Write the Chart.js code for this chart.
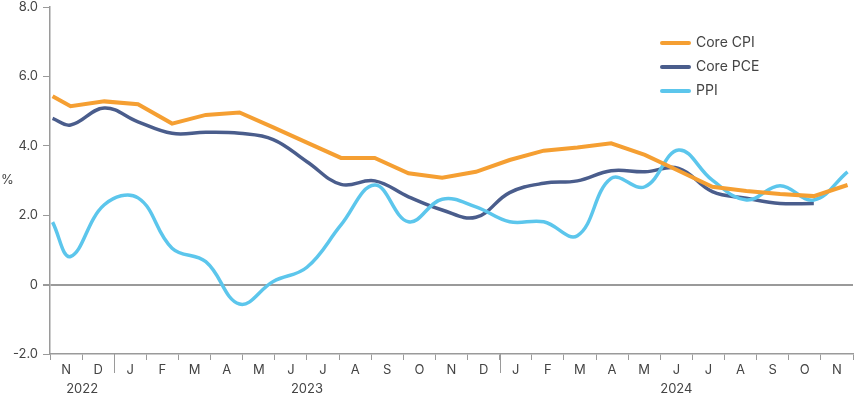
<!DOCTYPE html>
<html>
<head>
    <meta charset="UTF-8">
    <title>Core CPI, Core PCE, PPI</title>
    <script src="https://cdn.jsdelivr.net/npm/chart.js"></script>
    <style>
        body { margin: 0; background: #fff; }
        #cadre { width: 855px; height: 399px; position: relative; }
    </style>
</head>
<body>
<div id="cadre"><canvas id="graphique"></canvas></div>
<script>
    // axis categories: one letter per month, Nov 2022 .. Nov 2024
    const months = ['N', 'D', 'J', 'F', 'M', 'A', 'M', 'J', 'J', 'A', 'S', 'O', 'N',
                    'D', 'J', 'F', 'M', 'A', 'M', 'J', 'J', 'A', 'S', 'O', 'N'];
    const years = ['2022', '2023', '2024'];
    const yearStarts = [0, 2, 14];   // month index where each year starts on the axis

    // observation dates, in months since the start of Nov 2022
    const obsMonths = [0.08, 0.64, 1.69, 2.74, 3.80, 4.85, 5.90, 6.95, 8.00, 9.06, 10.11, 11.16, 12.21,
                       13.26, 14.31, 15.37, 16.42, 17.47, 18.52, 19.57, 20.62, 21.68, 22.73, 23.78, 24.83];

    const coreCpi = [5.43, 5.14, 5.28, 5.20, 4.64, 4.89, 4.96, 4.53, 4.09, 3.65, 3.65, 3.21, 3.08,
                     3.25, 3.59, 3.86, 3.95, 4.07, 3.74, 3.28, 2.82, 2.70, 2.61, 2.55, 2.87];
    const corePce = [4.79, 4.60, 5.09, 4.69, 4.36, 4.39, 4.36, 4.18, 3.54, 2.89, 2.99, 2.53, 2.15,
                     1.94, 2.65, 2.92, 2.99, 3.28, 3.25, 3.35, 2.68, 2.49, 2.34, 2.34];
    const ppi = [1.80, 0.81, 2.30, 2.50, 1.05, 0.66, -0.56, 0.09, 0.50, 1.72, 2.87, 1.81, 2.46,
                 2.24, 1.81, 1.81, 1.41, 3.06, 2.82, 3.88, 3.01, 2.44, 2.85, 2.44, 3.25];

    const yTicks = [-2, 0, 2, 4, 6, 8];

    const police = 'Inter, "Noto Sans", sans-serif';
    const gris = '#9a9a9a';
    const texte = '#444';

    function points(valeurs) {
        return valeurs.map(function (v, i) { return { x: obsMonths[i], y: v }; });
    }

    // year labels, year separators, "%" and the legend
    const extras = {
        id: 'extras',
        afterDraw: function (chart) {
            const ctx = chart.ctx;
            const xs = chart.scales.x;
            const zone = chart.chartArea;
            ctx.save();

            ctx.strokeStyle = gris;
            ctx.lineWidth = 1;
            yearStarts.forEach(function (m, i) {
                if (i === 0) return;
                const px = Math.round(xs.getPixelForValue(m)) + 0.5;
                ctx.beginPath();
                ctx.moveTo(px, zone.bottom);
                ctx.lineTo(px, zone.bottom + 19);
                ctx.stroke();
            });

            ctx.font = '13px ' + police;
            ctx.fillStyle = texte;
            ctx.textAlign = 'center';
            ctx.textBaseline = 'middle';
            years.forEach(function (an, i) {
                const fin = i < years.length - 1 ? yearStarts[i + 1] : months.length;
                ctx.fillText(an, xs.getPixelForValue((yearStarts[i] + fin) / 2), zone.bottom + 35);
            });

            ctx.textAlign = 'left';
            ctx.fillText('%', 1, (zone.top + zone.bottom) / 2);

            // legend
            ctx.font = '14px ' + police;
            const x0 = zone.right - 191;
            chart.data.datasets.forEach(function (ds, i) {
                const y = 43 + i * 24;
                ctx.strokeStyle = ds.borderColor;
                ctx.lineWidth = 4;
                ctx.lineCap = 'round';
                ctx.beginPath();
                ctx.moveTo(x0, y);
                ctx.lineTo(x0 + 27, y);
                ctx.stroke();
                ctx.fillStyle = texte;
                ctx.fillText(ds.label, x0 + 34, y);
            });
            ctx.restore();
        }
    };

    const ctx = document.getElementById('graphique').getContext('2d');
    const chart = new Chart(ctx, {
        type: 'line',
        data: {
            datasets: [
                {
                    label: 'Core CPI',
                    data: points(coreCpi),
                    borderColor: '#f59f32',
                    borderWidth: 4,
                    tension: 0,
                    order: 0
                },
                {
                    label: 'Core PCE',
                    data: points(corePce),
                    borderColor: '#4a5d8c',
                    borderWidth: 3.5,
                    tension: 0.4,
                    order: 2
                },
                {
                    label: 'PPI',
                    data: points(ppi),
                    borderColor: '#5cc6ec',
                    borderWidth: 3.5,
                    tension: 0.4,
                    order: 1
                }
            ]
        },
        options: {
            responsive: true,
            maintainAspectRatio: false,
            animation: false,
            layout: { padding: { top: 0, right: 1, left: 0, bottom: 0 } },
            elements: { point: { radius: 0 } },
            plugins: {
                legend: { display: false },
                tooltip: { enabled: false }
            },
            scales: {
                x: {
                    type: 'linear',
                    min: 0,
                    max: months.length,
                    afterBuildTicks: function (scale) {
                        const t = [];
                        for (let i = 0; i <= months.length * 2; i++) t.push({ value: i / 2 });
                        scale.ticks = t;
                    },
                    afterFit: function (scale) { scale.height = 45; },
                    ticks: {
                        autoSkip: false,
                        maxRotation: 0,
                        padding: 2,
                        color: texte,
                        font: { family: police, size: 13 },
                        callback: function (v) {
                            return Number.isInteger(v) ? '' : months[Math.floor(v)];
                        }
                    },
                    grid: {
                        drawOnChartArea: false,
                        tickLength: 6,
                        color: function (c) {
                            return c.tick && Number.isInteger(c.tick.value) ? gris : 'rgba(0,0,0,0)';
                        }
                    },
                    border: { color: gris, width: 1.5 }
                },
                y: {
                    min: -2,
                    max: 8,
                    afterBuildTicks: function (scale) {
                        scale.ticks = yTicks.map(function (v) { return { value: v }; });
                    },
                    afterFit: function (scale) {
                        scale.width = 50;
                        scale.paddingTop = 7;
                    },
                    ticks: {
                        padding: 5,
                        color: texte,
                        font: { family: police, size: 13 },
                        callback: function (v) { return v === 0 ? '0' : v.toFixed(1); }
                    },
                    grid: {
                        tickLength: 7,
                        tickColor: gris,
                        color: function (c) {
                            return c.tick && c.tick.value === 0 ? gris : 'rgba(0,0,0,0)';
                        },
                        lineWidth: function (c) {
                            return c.tick && c.tick.value === 0 ? 2 : 1;
                        }
                    },
                    border: { color: gris, width: 1.5 }
                }
            }
        },
        plugins: [extras]
    });
</script>
</body>
</html>
